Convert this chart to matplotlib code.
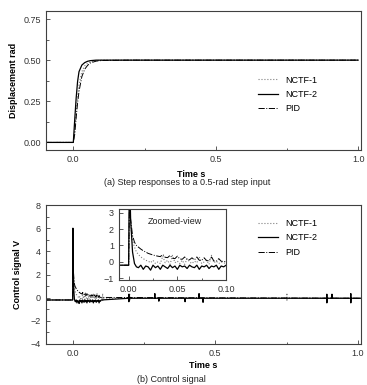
import numpy as np
import matplotlib
matplotlib.use('Agg')
import matplotlib.pyplot as plt
from matplotlib.ticker import MultipleLocator

plt.rcParams['font.family'] = ['Liberation Sans', 'DejaVu Sans']
plt.rcParams['font.size'] = 6.5

# ---------------- data: (a) step responses ----------------
t_step = [-0.1, 0.0, 0.005, 0.01, 0.015, 0.02, 0.03, 0.04, 0.05, 0.06, 0.08, 0.1, 0.2, 1.0]
y_nctf1 = [0, 0, 0.07, 0.18, 0.28, 0.35, 0.43, 0.465, 0.48, 0.49, 0.497, 0.5, 0.5, 0.5]
y_nctf2 = [0, 0, 0.14, 0.27, 0.37, 0.43, 0.47, 0.485, 0.493, 0.497, 0.5, 0.5, 0.5, 0.5]
y_pid = [0, 0, 0.05, 0.15, 0.24, 0.31, 0.40, 0.445, 0.468, 0.483, 0.494, 0.498, 0.5, 0.5]

# ---------------- data: (b) control signal ----------------
# start of the transient (t <= 0.008)
t_head = [-0.1, 0.0, 0.0008, 0.002, 0.004, 0.006, 0.008]
u1_head = [-0.2, -0.2, 3.0, 2.2, 1.3, 0.9, 0.6]
u2_head = [-0.2, -0.2, 6.0, 2.6, 0.6, -0.1, -0.3]
up_head = [-0.2, -0.2, 3.3, 2.6, 1.6, 1.2, 1.0]

# chatter 0.010 .. 0.100 s, sampled every 2.5 ms
t_chat = np.arange(0.010, 0.1001, 0.0025)
u1_chat = [0.45, 0.3, 0.2, 0.1, 0.05, -0.05, 0.1, -0.1, 0.0, -0.1, 0.35, -0.05, 0.1,
           -0.15, 0.4, -0.05, 0.05, -0.1, 0.1, -0.15, 0.2, 0.0, -0.1, 0.05, -0.05,
           0.3, -0.1, 0.0, 0.1, -0.15, 0.4, -0.05, 0.05, -0.1, 0.0, -0.05, -0.1]
u2_chat = [-0.35, -0.2, -0.45, -0.25, -0.3, -0.5, -0.2, -0.35, -0.25, -0.45, -0.2,
           -0.3, -0.4, -0.2, -0.35, -0.25, -0.45, -0.2, -0.3, -0.25, -0.4, -0.2,
           -0.3, -0.35, -0.2, -0.45, -0.25, -0.3, -0.2, -0.4, -0.25, -0.3, -0.2,
           -0.45, -0.25, -0.3, -0.2]
up_chat = [0.9, 0.78, 0.68, 0.6, 0.52, 0.47, 0.42, 0.38, 0.35, 0.32, 0.45, 0.28, 0.26,
           0.4, 0.22, 0.2, 0.35, 0.18, 0.16, 0.3, 0.15, 0.13, 0.25, 0.12, 0.3, 0.1,
           0.1, 0.25, 0.08, 0.07, 0.3, 0.06, 0.05, 0.2, 0.04, 0.03, 0.02]

# tail after 0.1 s with isolated spikes
base_tail = -0.05
spike_t2 = [0.197, 0.288, 0.302, 0.394, 0.443, 0.457, 0.891, 0.909, 0.975]
spike_hi2 = [0.3, 0.35, -0.05, -0.05, 0.35, -0.05, 0.3, 0.3, 0.35]
spike_lo2 = [-0.35, -0.05, -0.3, -0.35, -0.05, -0.4, -0.45, -0.05, -0.45]
spike_t1 = [0.105, 0.2, 0.751]
spike_hi1 = [0.35, 0.3, 0.4]
spike_lo1 = [-0.35, -0.3, -0.3]


def build(t_h, u_h, u_c, sp_t, sp_hi, sp_lo):
    t = list(t_h) + list(t_chat)
    u = list(u_h) + list(u_c)
    for ts, hi, lo in zip(sp_t, sp_hi, sp_lo):
        t += [ts - 0.0005, ts, ts, ts + 0.0005]
        u += [base_tail, hi, lo, base_tail]
    t.append(1.01)
    u.append(base_tail)
    return np.array(t), np.array(u)


t1, u1 = build(t_head, u1_head, u1_chat, spike_t1, spike_hi1, spike_lo1)
t2, u2 = build(t_head, u2_head, u2_chat, spike_t2, spike_hi2, spike_lo2)
tp, up = build(t_head, up_head, up_chat, [], [], [])

styles = {
    'NCTF-1': dict(color='#808080', ls=':', lw=0.8),
    'NCTF-2': dict(color='black', ls='-', lw=0.9),
    'PID': dict(color='black', ls='-.', lw=0.7),
}
ink = '#404040'


def style_axes(ax):
    for s in ax.spines.values():
        s.set_color(ink)
        s.set_linewidth(0.8)
    ax.tick_params(which='both', direction='in', colors=ink, labelcolor='#333333',
                   labelsize=6.5, width=0.6)
    ax.tick_params(which='major', length=3)
    ax.tick_params(which='minor', length=1.8)


fig = plt.figure(figsize=(3.67, 3.85), dpi=100)

# (a)
ax1 = fig.add_axes([0.1245, 0.610, 0.859, 0.362])
ax1.plot(t_step, y_nctf1, label='NCTF-1', **styles['NCTF-1'])
ax1.plot(t_step, y_nctf2, label='NCTF-2', **styles['NCTF-2'])
ax1.plot(t_step, y_pid, label='PID', **styles['PID'])
ax1.set_xlim(-0.097, 1.01)
ax1.set_ylim(-0.047, 0.80)
ax1.xaxis.set_major_locator(MultipleLocator(0.5))
ax1.xaxis.set_minor_locator(MultipleLocator(0.25))
ax1.yaxis.set_major_locator(MultipleLocator(0.25))
ax1.yaxis.set_minor_locator(MultipleLocator(0.125))
ax1.xaxis.set_major_formatter(matplotlib.ticker.FormatStrFormatter('%.1f'))
ax1.yaxis.set_major_formatter(matplotlib.ticker.FormatStrFormatter('%.2f'))
style_axes(ax1)
ax1.set_xlabel('Time s', fontweight='bold', labelpad=2)
ax1.xaxis.set_label_coords(0.46, -0.14)
ax1.set_ylabel('Displacement rad', fontweight='bold', labelpad=4)
ax1.legend(loc='upper left', bbox_to_anchor=(0.673, 0.535), frameon=False,
           borderpad=0, borderaxespad=0, handlelength=2.2, handletextpad=0.8,
           labelspacing=0.6, fontsize=6.5)

# (b)
ax2 = fig.add_axes([0.1245, 0.1065, 0.859, 0.361])
ax2.plot(t1, u1, label='NCTF-1', **styles['NCTF-1'])
ax2.plot(tp, up, label='PID', **styles['PID'])
ax2.plot(t2, u2, label='NCTF-2', **styles['NCTF-2'])
ax2.set_xlim(-0.0946, 1.0105)
ax2.set_ylim(-4, 8)
ax2.xaxis.set_major_locator(MultipleLocator(0.5))
ax2.xaxis.set_minor_locator(MultipleLocator(0.25))
ax2.yaxis.set_major_locator(MultipleLocator(2))
ax2.yaxis.set_minor_locator(MultipleLocator(1))
ax2.xaxis.set_major_formatter(matplotlib.ticker.FormatStrFormatter('%.1f'))
ax2.yaxis.set_major_formatter(matplotlib.ticker.FuncFormatter(
    lambda v, p: f'{v:.0f}'.replace('-', '\u2212')))
style_axes(ax2)
ax2.set_xlabel('Time s', fontweight='bold', labelpad=2)
ax2.set_ylabel('Control signal V', fontweight='bold', labelpad=6)
h, l = ax2.get_legend_handles_labels()
order = [0, 2, 1]
ax2.legend([h[i] for i in order], [l[i] for i in order], loc='upper left',
           bbox_to_anchor=(0.673, 0.90), frameon=False, borderpad=0,
           borderaxespad=0, handlelength=2.2, handletextpad=0.8,
           labelspacing=0.6, fontsize=6.5)

# inset
axi = fig.add_axes([0.324, 0.2727, 0.292, 0.1837])
axi.plot(t1, u1, **styles['NCTF-1'])
axi.plot(tp, up, **styles['PID'])
axi.plot(t2, u2, **styles['NCTF-2'])
axi.set_xlim(-0.01, 0.10)
axi.set_ylim(-1.1, 3.2)
axi.xaxis.set_major_locator(MultipleLocator(0.05))
axi.xaxis.set_minor_locator(MultipleLocator(0.025))
axi.yaxis.set_major_locator(MultipleLocator(1))
axi.xaxis.set_major_formatter(matplotlib.ticker.FormatStrFormatter('%.2f'))
axi.yaxis.set_major_formatter(matplotlib.ticker.FuncFormatter(
    lambda v, p: f'{v:.0f}'.replace('-', '\u2212')))
style_axes(axi)
axi.text(0.27, 0.825, 'Zoomed-view', transform=axi.transAxes, fontsize=6.5,
         va='center', ha='left', color='#222222')

fig.text(0.511, 0.525, '(a) Step responses to a 0.5-rad step input',
         ha='center', va='center', fontsize=6.5, color='#222222')
fig.text(0.466, 0.013, '(b) Control signal', ha='center', va='center',
         fontsize=6.5, color='#222222')

fig.savefig('out.png', dpi=100)
